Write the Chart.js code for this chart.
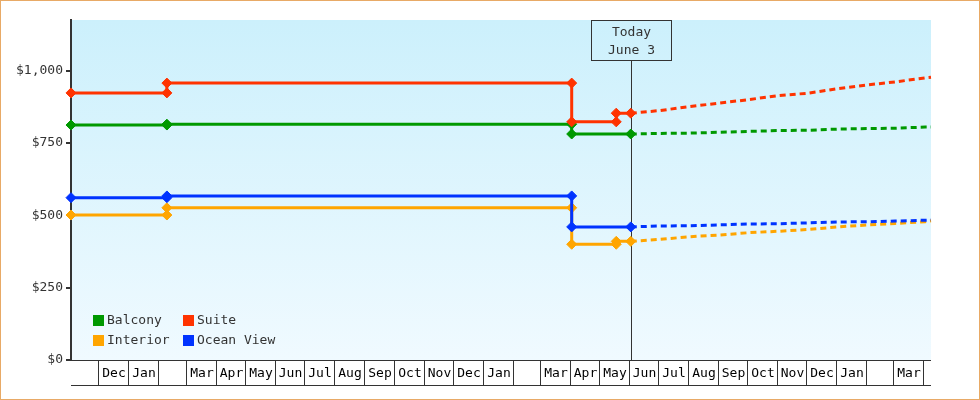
<!DOCTYPE html>
<html>
<head>
<meta charset="utf-8">
<script src="https://cdn.jsdelivr.net/npm/chart.js@4/dist/chart.umd.min.js"></script>
<style>
  html, body { margin: 0; padding: 0; background: #fff; }
  #wrap { position: relative; width: 980px; height: 400px; }
  #frame { position: absolute; left: 0; top: 0; width: 980px; height: 400px; box-sizing: border-box; border: 1px solid #e8aa66; pointer-events: none; }
</style>
</head>
<body>
<div id="wrap">
  <canvas id="chart" width="980" height="400"></canvas>
  <div id="frame"></div>
</div>
<script>
// x range of the plot
const xStart = '2019-11-03';
const xEnd   = '2022-04-09';
const today  = '2021-06-03';
const todayLabel = ['Today', 'June 3'];

// price history (step changes carry two points on the same day)
const suiteDates    = ['2019-11-03', '2020-02-10', '2020-02-10', '2021-04-03', '2021-04-03', '2021-05-19', '2021-05-19', '2021-06-03'];
const suiteValues   = [923, 923, 957, 957, 823, 823, 853, 853];
const interiorDates = ['2019-11-03', '2020-02-10', '2020-02-10', '2021-04-03', '2021-04-03', '2021-05-19', '2021-05-19', '2021-06-03'];
const interiorValues = [501, 501, 526, 526, 400, 400, 410, 410];
const balconyDates  = ['2019-11-03', '2020-02-10', '2020-02-10', '2021-04-03', '2021-04-03', '2021-06-03'];
const balconyValues = [812, 812, 815, 815, 781, 781];
const oceanDates    = ['2019-11-03', '2020-02-10', '2020-02-10', '2021-04-03', '2021-04-03', '2021-06-03'];
const oceanValues   = [561, 561, 567, 567, 460, 460];

// projections after today
const projDates     = ['2021-06-03', '2021-07-03', '2021-08-03', '2021-09-03', '2021-10-03', '2021-11-03', '2021-12-03', '2022-01-03', '2022-02-03', '2022-03-03', '2022-04-03', '2022-04-09'];
const suiteProj     = [853, 862, 876, 888, 900, 914, 922, 938, 951, 961, 975, 977];
const balconyProj   = [781, 783, 784, 787, 790, 793, 794, 798, 800, 801, 805, 805];
const oceanProj     = [460, 463, 464, 467, 470, 471, 474, 477, 478, 480, 483, 484];
const interiorProj  = [410, 417, 426, 432, 440, 445, 451, 460, 467, 472, 478, 481];

// axes
const yTicks = [0, 250, 500, 750, 1000];
const yMax   = 1175;
const monthStarts = [
    '2019-12-01',
    '2020-01-01', '2020-02-01', '2020-03-01', '2020-04-01', '2020-05-01', '2020-06-01',
    '2020-07-01', '2020-08-01', '2020-09-01', '2020-10-01', '2020-11-01', '2020-12-01',
    '2021-01-01', '2021-02-01', '2021-03-01', '2021-04-01', '2021-05-01', '2021-06-01',
    '2021-07-01', '2021-08-01', '2021-09-01', '2021-10-01', '2021-11-01', '2021-12-01',
    '2022-01-01', '2022-02-01', '2022-03-01', '2022-04-01',
];
// one label per cell between boundaries (first and last cells are partial)
const monthLabels = [
    '', 'Dec',
    'Jan', '', 'Mar', 'Apr', 'May', 'Jun', 'Jul', 'Aug', 'Sep', 'Oct', 'Nov', 'Dec',
    'Jan', '', 'Mar', 'Apr', 'May', 'Jun', 'Jul', 'Aug', 'Sep', 'Oct', 'Nov', 'Dec',
    'Jan', '', 'Mar', '',
];

const COLORS = { balcony: '#009900', suite: '#ff3300', interior: '#ffa500', ocean: '#0033ff' };
const legendItems = [
    ['Balcony', COLORS.balcony], ['Suite', COLORS.suite],
    ['Interior', COLORS.interior], ['Ocean View', COLORS.ocean],
];

const FONT = '"DejaVu Sans Mono", "Liberation Mono", monospace';
const day = s => Date.UTC(+s.slice(0, 4), +s.slice(5, 7) - 1, +s.slice(8, 10)) / 864e5;
const pts = (dates, vals) => dates.map((d, i) => ({ x: day(d), y: vals[i] }));

function history(label, color, dates, vals) {
    return {
        label, data: pts(dates, vals),
        borderColor: color, backgroundColor: color,
        borderWidth: 3, tension: 0, clip: false,
        pointStyle: 'rectRot', pointRadius: 5, pointBorderWidth: 1,
        pointBackgroundColor: color, pointBorderColor: color,
    };
}
function projection(label, color, vals) {
    return {
        label, data: pts(projDates, vals),
        borderColor: color, borderWidth: 3, borderDash: [6, 4],
        tension: 0, pointRadius: 0, clip: false,
    };
}

const decor = {
    id: 'decor',
    beforeDraw(chart) {
        const { ctx, chartArea: a } = chart;
        const g = ctx.createLinearGradient(0, a.top, 0, a.bottom);
        g.addColorStop(0, '#ccf0fc');
        g.addColorStop(1, '#f0faff');
        ctx.save();
        ctx.fillStyle = g;
        ctx.fillRect(a.left, a.top, a.right - a.left, a.bottom - a.top);
        ctx.restore();
    },
    beforeDatasetsDraw(chart) {
        const { ctx, chartArea: a, scales: { x } } = chart;
        const tx = Math.round(x.getPixelForValue(day(today))) + 0.5;
        ctx.save();
        ctx.strokeStyle = '#333';
        ctx.lineWidth = 1;
        // today marker line + box
        ctx.beginPath();
        ctx.moveTo(tx, a.top + 40);
        ctx.lineTo(tx, a.bottom);
        ctx.stroke();
        ctx.strokeRect(tx - 40, a.top + 0.5, 80, 40);
        ctx.fillStyle = '#333';
        ctx.font = '13px ' + FONT;
        ctx.textAlign = 'center';
        ctx.textBaseline = 'middle';
        ctx.fillText(todayLabel[0], tx, a.top + 13);
        ctx.fillText(todayLabel[1], tx, a.top + 31);
        ctx.restore();
    },
    afterDraw(chart) {
        const { ctx, chartArea: a, scales: { x } } = chart;
        ctx.save();
        ctx.strokeStyle = '#333';
        ctx.lineWidth = 1;
        const y0 = a.bottom + 0.5, y1 = a.bottom + 25.5;
        ctx.beginPath();
        ctx.moveTo(a.left, y0); ctx.lineTo(a.right, y0);
        ctx.moveTo(a.left, y1); ctx.lineTo(a.right, y1);
        const bounds = monthStarts.map(d => Math.round(x.getPixelForValue(day(d))) + 0.5);
        for (const bx of bounds) { ctx.moveTo(bx, y0); ctx.lineTo(bx, y1); }
        ctx.stroke();

        // month labels centred in each cell
        const edges = [a.left, ...bounds, a.right];
        ctx.fillStyle = '#000';
        ctx.font = '13px ' + FONT;
        ctx.textAlign = 'center';
        ctx.textBaseline = 'middle';
        monthLabels.forEach((lab, i) => {
            if (lab) ctx.fillText(lab, (edges[i] + edges[i + 1]) / 2 + 0.5, a.bottom + 14);
        });

        // legend, two columns inside the plot
        const lx = a.left + 22, ly = a.bottom - 45;
        legendItems.forEach(([lab, col], i) => {
            const cx = lx + (i % 2) * 90;
            const cy = ly + Math.floor(i / 2) * 20;
            ctx.fillStyle = col;
            ctx.fillRect(cx, cy, 11, 11);
            ctx.fillStyle = '#333';
            ctx.textAlign = 'left';
            ctx.fillText(lab, cx + 14, cy + 6);
        });
        ctx.restore();
    },
};

new Chart(document.getElementById('chart'), {
    type: 'line',
    data: {
        datasets: [
            history('Ocean View', COLORS.ocean, oceanDates, oceanValues),
            history('Interior', COLORS.interior, interiorDates, interiorValues),
            history('Suite', COLORS.suite, suiteDates, suiteValues),
            history('Balcony', COLORS.balcony, balconyDates, balconyValues),
            projection('Ocean View', COLORS.ocean, oceanProj),
            projection('Interior', COLORS.interior, interiorProj),
            projection('Suite', COLORS.suite, suiteProj),
            projection('Balcony', COLORS.balcony, balconyProj),
        ],
    },
    options: {
        responsive: false,
        animation: false,
        devicePixelRatio: 1,
        layout: { padding: { left: 0, top: 20, right: 49, bottom: 40 } },
        plugins: { legend: { display: false }, tooltip: { enabled: false } },
        scales: {
            x: { type: 'linear', min: day(xStart), max: day(xEnd), display: false },
            y: {
                min: 0, max: yMax,
                afterFit: s => { s.width = 71; },
                afterBuildTicks: s => { s.ticks = yTicks.map(v => ({ value: v })); },
                grid: { drawOnChartArea: false, drawTicks: true, tickLength: 5, color: '#333', lineWidth: 2 },
                border: { color: '#333', width: 2 },
                ticks: {
                    color: '#333', padding: 3,
                    font: { family: FONT, size: 13 },
                    callback: v => '$' + v.toLocaleString('en-US'),
                },
            },
        },
    },
    plugins: [decor],
});
</script>
</body>
</html>
